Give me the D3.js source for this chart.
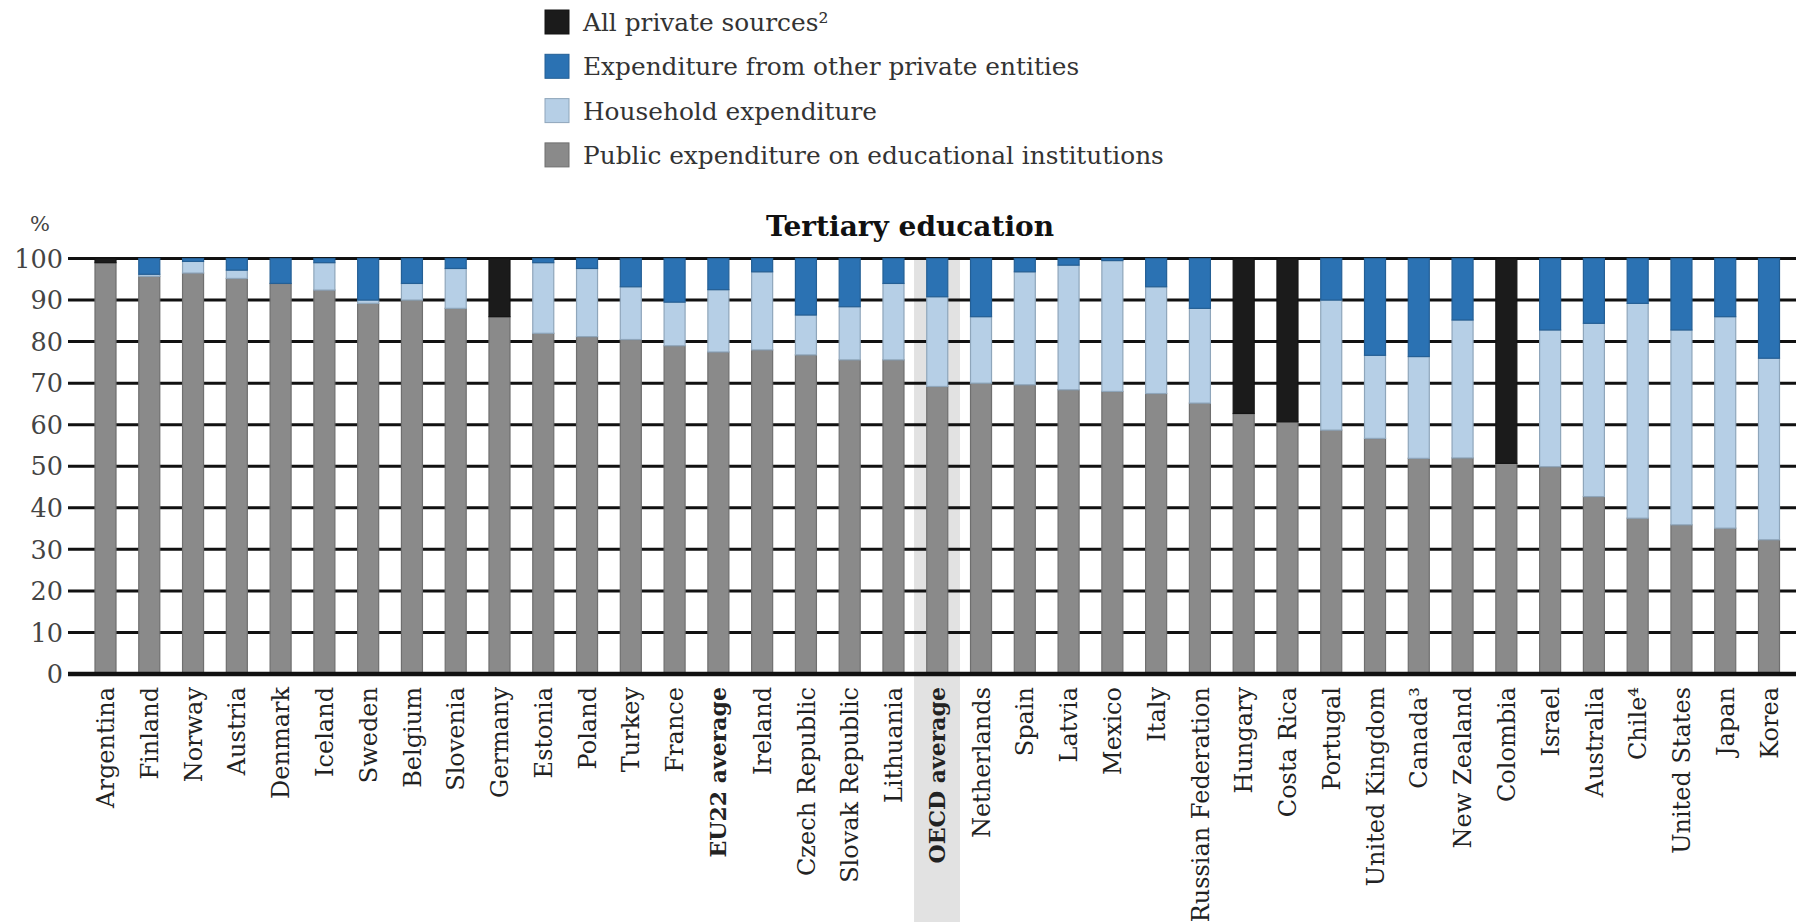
<!DOCTYPE html>
<html>
<head>
<meta charset="utf-8">
<script src="https://cdn.jsdelivr.net/npm/d3@7"></script>
<style>
  html, body { margin: 0; padding: 0; background: #ffffff; }
  svg { display: block; }
</style>
</head>
<body>
<svg id="chart" width="1796" height="922"></svg>
<script>
const categories = ["Argentina","Finland","Norway","Austria","Denmark","Iceland","Sweden","Belgium","Slovenia","Germany","Estonia","Poland","Turkey","France","EU22 average","Ireland","Czech Republic","Slovak Republic","Lithuania","OECD average","Netherlands","Spain","Latvia","Mexico","Italy","Russian Federation","Hungary","Costa Rica","Portugal","United Kingdom","Canada³","New Zealand","Colombia","Israel","Australia","Chile⁴","United States","Japan","Korea"];
const publicExp    = [99,95.7,96.5,95.2,94,92.4,89.2,90,88,86,82,81.2,80.5,79,77.5,78,76.8,75.6,75.6,69.2,70,69.6,68.4,68,67.5,65.2,62.7,60.7,58.7,56.7,51.9,52,50.7,49.9,42.7,37.5,35.9,35.1,32.3];
const household    = [0,0.5,2.8,2,0,6.6,0.8,4,9.6,0,17,16.4,12.7,10.5,15,18.8,9.6,12.8,18.4,21.6,16,27.2,30,31.5,25.7,22.8,0,0,31.3,20,24.5,33.2,0,32.9,41.7,51.7,46.9,50.9,43.7];
const otherPrivate = [0,3.8,0.7,2.8,6,1,10,6,2.4,0,1,2.4,6.8,10.5,7.5,3.2,13.6,11.6,6,9.2,14,3.2,1.6,0.5,6.8,12,0,0,10,23.3,23.6,14.8,0,17.2,15.6,10.8,17.2,14,24];
const allPrivate   = [1,0,0,0,0,0,0,0,0,14,0,0,0,0,0,0,0,0,0,0,0,0,0,0,0,0,37.3,39.3,0,0,0,0,49.3,0,0,0,0,0,0];
const yTicks = [0,10,20,30,40,50,60,70,80,90,100];
const boldCats = ["OECD average","EU22 average"];
const highlightCat = "OECD average";

const seriesKeys = ["public","household","other","allPrivate"];
const seriesNames = {
  allPrivate: "All private sources²",
  other: "Expenditure from other private entities",
  household: "Household expenditure",
  public: "Public expenditure on educational institutions"
};
const colors = {
  public: "#8a8a8a",
  household: "#b6cfe6",
  other: "#2b72b3",
  allPrivate: "#1b1b1b"
};
const edges = {
  public: "#6f6f6f",
  household: "#8fa6bb",
  other: "#245f95",
  allPrivate: "#141414"
};

const rows = categories.map((c, i) => ({
  cat: c, public: publicExp[i], household: household[i], other: otherPrivate[i], allPrivate: allPrivate[i]
}));

const svg = d3.select("#chart");
const FONT = "'DejaVu Serif', 'Liberation Serif', serif";

const x = d3.scalePoint().domain(categories).range([105.5, 1769]);
const step = x.step();
const barW = step * 0.48;
const y = d3.scaleLinear().domain([0, 100]).range([674, 258.5]);
const gridX0 = 68, gridX1 = 1796;

// OECD highlight band
svg.append("rect")
  .attr("x", x(highlightCat) - step * 0.53)
  .attr("y", y(100))
  .attr("width", step * 1.05)
  .attr("height", 922 - y(100))
  .attr("fill", "#e2e2e2");

// gridlines
svg.append("g").selectAll("line")
  .data(yTicks.filter(t => t > 0))
  .join("line")
  .attr("x1", gridX0).attr("x2", gridX1)
  .attr("y1", d => y(d)).attr("y2", d => y(d))
  .attr("stroke", "#111").attr("stroke-width", 3);

// y tick labels
svg.append("g").selectAll("text")
  .data(yTicks)
  .join("text")
  .attr("x", 63)
  .attr("y", d => y(d))
  .attr("dy", "0.36em")
  .attr("text-anchor", "end")
  .attr("font-family", FONT)
  .attr("font-size", 25.5)
  .attr("fill", "#444")
  .text(d => d);

svg.append("text")
  .attr("x", 40).attr("y", 231)
  .attr("text-anchor", "middle")
  .attr("font-family", FONT)
  .attr("font-size", 21)
  .attr("fill", "#444")
  .text("%");

// stacked bars
const stack = d3.stack().keys(seriesKeys)(rows);
svg.append("g").selectAll("g")
  .data(stack)
  .join("g")
  .attr("fill", d => colors[d.key])
  .attr("stroke", d => edges[d.key])
  .attr("stroke-width", 1.2)
  .selectAll("rect")
  .data(d => d.filter(s => s[1] - s[0] > 0))
  .join("rect")
  .attr("x", d => x(d.data.cat) - barW / 2)
  .attr("y", d => y(d[1]))
  .attr("width", barW)
  .attr("height", d => y(d[0]) - y(d[1]));

// baseline axis
svg.append("line")
  .attr("x1", gridX0).attr("x2", gridX1)
  .attr("y1", y(0)).attr("y2", y(0))
  .attr("stroke", "#111").attr("stroke-width", 4.5);

// category labels
svg.append("g").selectAll("text")
  .data(categories)
  .join("text")
  .attr("transform", d => `translate(${x(d)},687) rotate(-90)`)
  .attr("dy", "0.36em")
  .attr("text-anchor", "end")
  .attr("font-family", FONT)
  .attr("font-size", d => boldCats.includes(d) ? 22 : 24)
  .attr("font-weight", d => boldCats.includes(d) ? "bold" : "normal")
  .attr("fill", "#222")
  .text(d => d);

// title
svg.append("text")
  .attr("x", 910).attr("y", 236)
  .attr("text-anchor", "middle")
  .attr("font-family", FONT)
  .attr("font-size", 28)
  .attr("font-weight", "bold")
  .attr("fill", "#111")
  .text("Tertiary education");

// legend
const legendKeys = ["allPrivate","other","household","public"];
const lg = svg.append("g").selectAll("g")
  .data(legendKeys)
  .join("g")
  .attr("transform", (d, i) => `translate(545,${22 + i * 44.3})`);
lg.append("rect")
  .attr("x", 0).attr("y", -12)
  .attr("width", 24).attr("height", 24)
  .attr("fill", d => colors[d])
  .attr("stroke", d => edges[d]).attr("stroke-width", 1);
lg.append("text")
  .attr("x", 38).attr("y", 0)
  .attr("dy", "0.36em")
  .attr("font-family", FONT)
  .attr("font-size", 24.8)
  .attr("fill", "#333")
  .text(d => seriesNames[d]);
</script>
</body>
</html>
